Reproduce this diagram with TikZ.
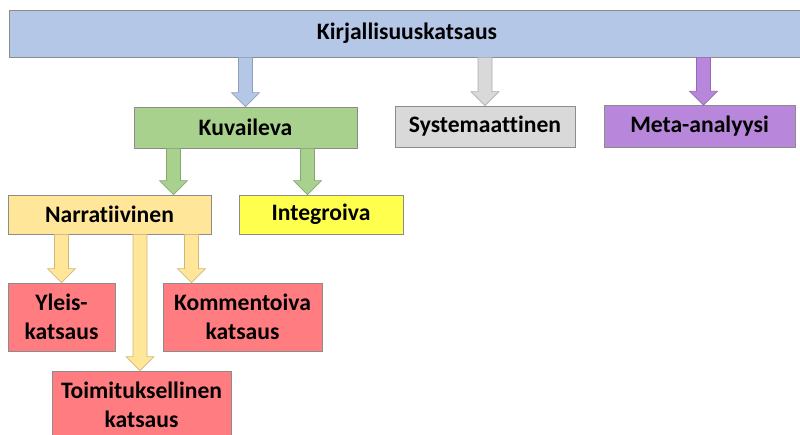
\documentclass[tikz,border=0pt]{standalone}
\usepackage{fontspec}
\setmainfont{Carlito}[Ligatures=NoCommon]
\usepackage{tikz}
\usetikzlibrary{calc}
\definecolor{blueA}{HTML}{B4C7E7}
\definecolor{greenA}{HTML}{A9D18E}
\definecolor{grayA}{HTML}{D9D9D9}
\definecolor{purpleA}{HTML}{B886DA}
\definecolor{sandA}{HTML}{FFE699}
\definecolor{yellowA}{HTML}{FFFF4D}
\definecolor{redA}{HTML}{FF7C80}
\tikzstyle{box} = [rectangle, draw=black!45, line width=0.8pt, text centered, font=\fontsize{23.6}{29}\selectfont\bfseries, inner sep=0pt]
\tikzstyle{fat} = [draw=#1!80!black, fill=#1, line width=0.6pt,
  to path={let \p1=(\tikztostart), \p2=(\tikztotarget) in
    (\x1-7pt,\y1) -- (\x1-7pt,\y2+14pt) -- (\x1-14pt,\y2+14pt) -- (\x1,\y2)
    -- (\x1+14pt,\y2+14pt) -- (\x1+7pt,\y2+14pt) -- (\x1+7pt,\y1) -- cycle}]

\begin{document}
\begin{tikzpicture}[x=1pt,y=-1pt]
\useasboundingbox (0,0) rectangle (800,434);

\node (top) [box, fill=blueA, minimum width=796, minimum height=47] at (407,33.5) {Kirjallisuuskatsaus};
\node (kuv) [box, fill=greenA, minimum width=223, minimum height=41] at (245.5,127.5) {Kuvaileva};
\node (sys) [box, fill=grayA, minimum width=180, minimum height=41] at (485,126.5) {Systemaattinen};
\node (meta) [box, fill=purpleA, minimum width=191, minimum height=42] at (699.5,126.5) {Meta-analyysi};
\node (narr) [box, fill=sandA, minimum width=203, minimum height=39] at (109.5,214.5) {Narratiivinen};
\node (integ) [box, fill=yellowA, minimum width=164, minimum height=39] at (321,214.5) {Integroiva};
\node (yleis) [box, fill=redA, minimum width=107, minimum height=68, align=center] at (61.5,317) {Yleis-\\katsaus};
\node (komm) [box, fill=redA, minimum width=159, minimum height=68, align=center] at (242.5,317) {Kommentoiva\\katsaus};
\node (toim) [box, fill=redA, minimum width=179, minimum height=68, align=center] at (141.5,405) {Toimituksellinen\\katsaus};

% block arrows
\draw [fat=blueA] (kuv.north |- top.south) to (kuv.north);
\draw [fat=grayA] (sys.north |- top.south) to (sys.north);
\draw [fat=purpleA] ([xshift=4pt]meta.north |- top.south) to ([xshift=4pt]meta.north);
\draw [fat=greenA] ([xshift=-72pt]kuv.south) to ([xshift=-72pt]kuv.south |- narr.north);
\draw [fat=greenA] ([xshift=62pt]kuv.south) to ([xshift=62pt]kuv.south |- integ.north);
\draw [fat=sandA] (yleis.north |- narr.south) to (yleis.north);
\draw [fat=sandA] ([xshift=-1.5pt]toim.north |- narr.south) to ([xshift=-1.5pt]toim.north);
\draw [fat=sandA] ([xshift=82pt]narr.south) to ([xshift=82pt]narr.south |- komm.north);

\end{tikzpicture}
\end{document}
